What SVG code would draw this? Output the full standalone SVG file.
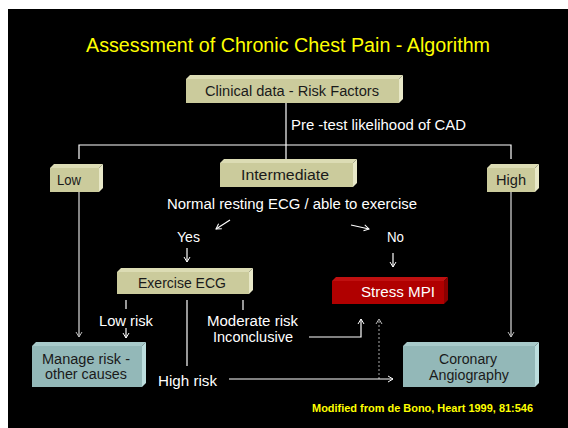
<svg xmlns="http://www.w3.org/2000/svg" width="568" height="428" viewBox="0 0 568 428">
<defs>
<style>
.bg{fill:#000}
.kf{fill:#cbcb9c}.kt{fill:#dcdcb4}.kr{fill:#e8e8c8}
.tf{fill:#93b8b8}.tt{fill:#a8caca}.tr{fill:#bcdede}
.rf{fill:#b00000}.rt{fill:#c01010}.rr{fill:#8a0000}
.bt{font-family:"Liberation Sans",Arial,sans-serif;font-size:14px;fill:#1a1a1a;text-anchor:middle}
.wt{font-family:"Liberation Sans",Arial,sans-serif;font-size:14px;fill:#fff}
.ln{stroke:#fff;stroke-width:1.2;fill:none}
.gl{stroke:#b0b0b0;stroke-width:1.5;fill:none}
.dl{stroke:#aaa;stroke-width:1;fill:none;stroke-dasharray:2,2}
</style>
<marker id="ah" markerWidth="8" markerHeight="8" refX="6" refY="4" orient="auto" markerUnits="userSpaceOnUse">
<path d="M1,1 L6,4 L1,7" fill="none" stroke="#fff" stroke-width="1"/>
</marker>
<marker id="ahg" markerWidth="8" markerHeight="8" refX="6" refY="4" orient="auto" markerUnits="userSpaceOnUse">
<path d="M1,1 L6,4 L1,7" fill="none" stroke="#bbb" stroke-width="1"/>
</marker>
</defs>
<rect x="0" y="0" width="568" height="428" fill="#fff"/>
<rect class="bg" x="8" y="9" width="560" height="419"/>
<text x="86" y="52" font-family="Liberation Sans,Arial,sans-serif" font-size="20" fill="#ffff00" textLength="404" lengthAdjust="spacingAndGlyphs">Assessment of Chronic Chest Pain - Algorithm</text>

<g id="connectors">
<line class="ln" x1="286" y1="103" x2="286" y2="145"/>
<polyline class="ln" points="79,159 79,145 511,145 511,159"/>
<line class="ln" x1="286" y1="145" x2="286" y2="159"/>
<line class="gl" x1="79" y1="192" x2="79" y2="337" marker-end="url(#ahg)"/>
<line class="gl" x1="511" y1="192" x2="511" y2="337" marker-end="url(#ahg)"/>
<line class="ln" x1="230" y1="220" x2="216" y2="229" marker-end="url(#ah)"/>
<line class="ln" x1="187" y1="248" x2="187" y2="262" marker-end="url(#ah)"/>
<line class="ln" x1="351" y1="225" x2="369" y2="229" marker-end="url(#ah)"/>
<line class="ln" x1="393" y1="253" x2="393" y2="267" marker-end="url(#ah)"/>
<line class="ln" x1="126" y1="300" x2="126" y2="309"/>
<line class="ln" x1="243" y1="300" x2="243" y2="310"/>
<line class="ln" x1="187" y1="300" x2="187" y2="366"/>
<line class="ln" x1="126" y1="328" x2="126" y2="338" marker-end="url(#ah)"/>
<polyline class="ln" points="309,337 361,337 361,319" marker-end="url(#ah)"/>
<line class="dl" x1="379" y1="379" x2="379" y2="319" marker-end="url(#ahg)"/>
<line class="ln" x1="229" y1="379" x2="393" y2="379" marker-end="url(#ah)"/>
<text class="wt" x="291" y="130" textLength="175" lengthAdjust="spacingAndGlyphs">Pre -test likelihood of CAD</text>
<text class="wt" x="167" y="209" textLength="250" lengthAdjust="spacingAndGlyphs">Normal resting ECG / able to exercise</text>
<text class="wt" x="177" y="242" textLength="23" lengthAdjust="spacingAndGlyphs">Yes</text>
<text class="wt" x="387" y="242" textLength="17" lengthAdjust="spacingAndGlyphs">No</text>
<text class="wt" x="99" y="326" textLength="54" lengthAdjust="spacingAndGlyphs">Low risk</text>
<text class="wt" x="207" y="326" textLength="91" lengthAdjust="spacingAndGlyphs">Moderate risk</text>
<text class="wt" x="213" y="342" textLength="80" lengthAdjust="spacingAndGlyphs">Inconclusive</text>
<text class="wt" x="158" y="386" textLength="59" lengthAdjust="spacingAndGlyphs">High risk</text>
</g>

<g id="clinical">
<rect class="kf" x="186" y="79" width="213" height="24"/>
<polygon class="kt" points="186,79 190,75 403,75 399,79"/>
<polygon class="kr" points="399,79 403,75 403,99 399,103"/>
<text class="bt" x="292" y="96" textLength="174" lengthAdjust="spacingAndGlyphs">Clinical data - Risk Factors</text>
</g>
<g id="low">
<rect class="kf" x="50" y="168" width="49" height="24"/>
<polygon class="kt" points="50,168 54,164 103,164 99,168"/>
<polygon class="kr" points="99,168 103,164 103,188 99,192"/>
<text class="bt" x="69" y="185" textLength="24" lengthAdjust="spacingAndGlyphs">Low</text>
</g>
<g id="intermediate">
<rect class="kf" x="220" y="163" width="133" height="24"/>
<polygon class="kt" points="220,163 224,159 357,159 353,163"/>
<polygon class="kr" points="353,163 357,159 357,183 353,187"/>
<text class="bt" x="285" y="180" textLength="88" lengthAdjust="spacingAndGlyphs">Intermediate</text>
</g>
<g id="high">
<rect class="kf" x="487" y="168" width="48" height="24"/>
<polygon class="kt" points="487,168 491,164 539,164 535,168"/>
<polygon class="kr" points="535,168 539,164 539,188 535,192"/>
<text class="bt" x="511" y="185" textLength="30" lengthAdjust="spacingAndGlyphs">High</text>
</g>
<g id="exercise-ecg">
<rect class="kf" x="117" y="272" width="132" height="22"/>
<polygon class="kt" points="117,272 121,268 253,268 249,272"/>
<polygon class="kr" points="249,272 253,268 253,290 249,294"/>
<text class="bt" x="182" y="288" textLength="88" lengthAdjust="spacingAndGlyphs">Exercise ECG</text>
</g>
<g id="stress-mpi">
<rect class="rf" x="332" y="281" width="112" height="23"/>
<polygon class="rt" points="332,281 336,277 448,277 444,281"/>
<polygon class="rr" points="444,281 448,277 448,300 444,304"/>
<text class="bt" x="398" y="297" style="fill:#fff" textLength="74" lengthAdjust="spacingAndGlyphs">Stress MPI</text>
</g>
<g id="manage-risk">
<rect class="tf" x="32" y="346" width="110" height="41"/>
<polygon class="tt" points="32,346 36,342 146,342 142,346"/>
<polygon class="tr" points="142,346 146,342 146,383 142,387"/>
<text class="bt" x="86" y="364" textLength="88" lengthAdjust="spacingAndGlyphs">Manage risk -</text>
<text class="bt" x="86" y="379" textLength="82" lengthAdjust="spacingAndGlyphs">other causes</text>
</g>
<g id="coronary-angiography">
<rect class="tf" x="403" y="346" width="132" height="41"/>
<polygon class="tt" points="403,346 407,342 539,342 535,346"/>
<polygon class="tr" points="535,346 539,342 539,383 535,387"/>
<text class="bt" x="468" y="364" textLength="58" lengthAdjust="spacingAndGlyphs">Coronary</text>
<text class="bt" x="469" y="380" textLength="80" lengthAdjust="spacingAndGlyphs">Angiography</text>
</g>
<text x="312" y="412" font-family="Liberation Sans,Arial,sans-serif" font-size="11.5" font-weight="bold" fill="#ffff00" textLength="221" lengthAdjust="spacingAndGlyphs">Modified from de Bono, Heart 1999, 81:546</text>
</svg>
